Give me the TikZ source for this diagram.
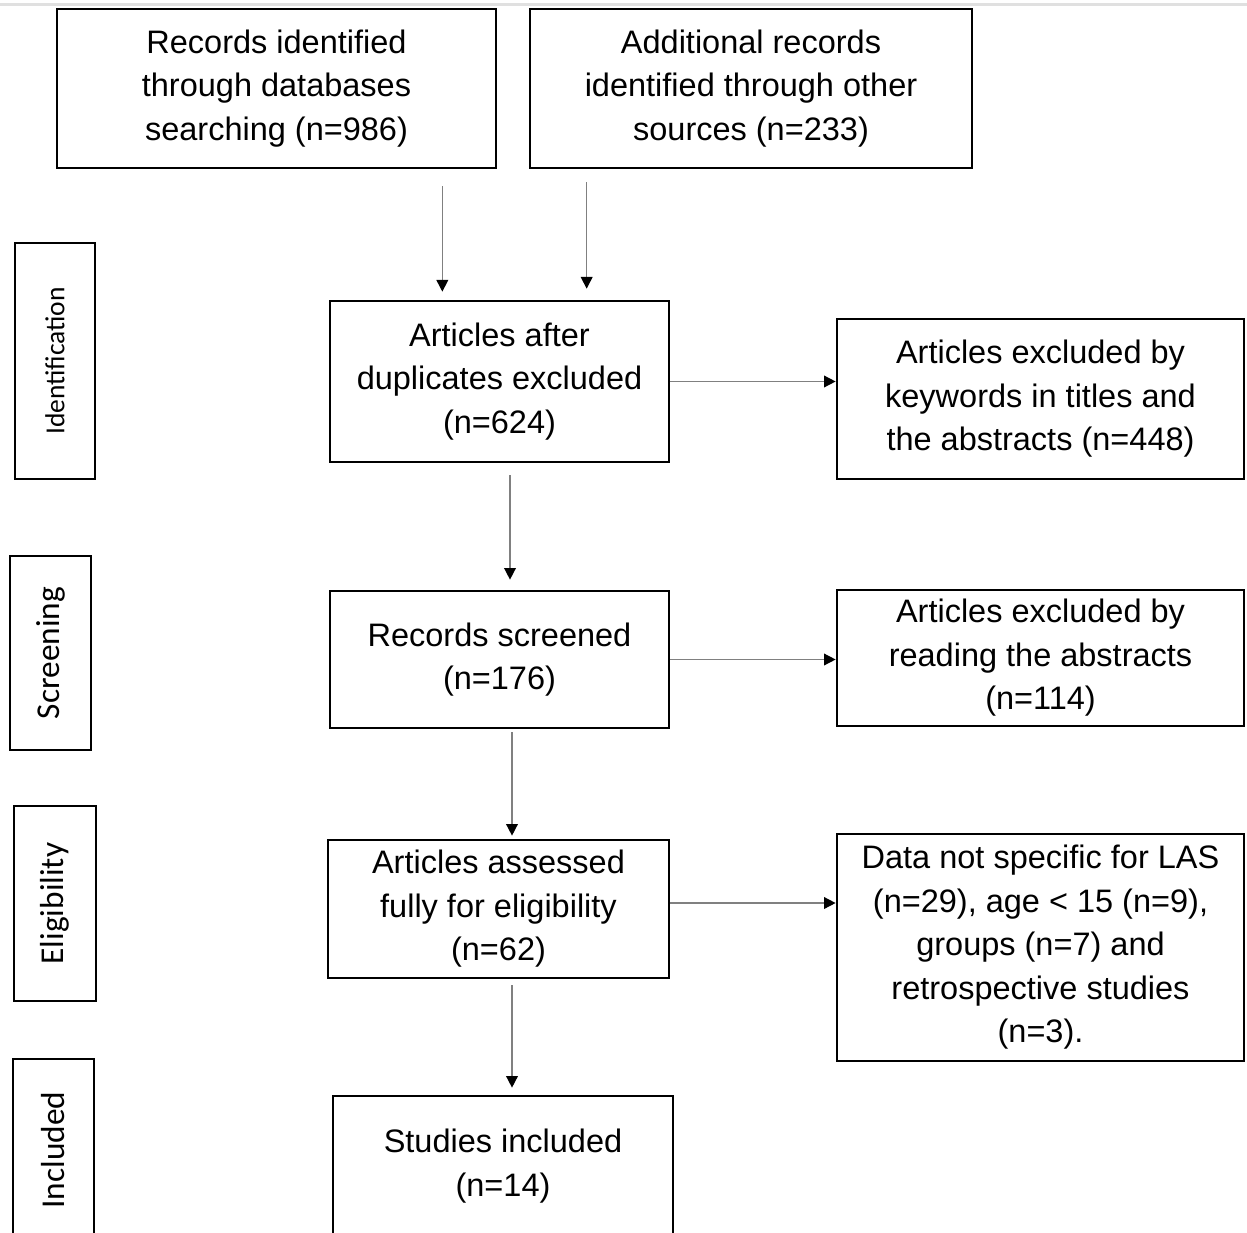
\documentclass[tikz,border=0pt]{standalone}
\usepackage{fontspec}
\setmainfont{Liberation Sans}
\newfontfamily\calib{Carlito}
\usetikzlibrary{arrows.meta}
\begin{document}
\begin{tikzpicture}[x=0.6pt,y=-0.6pt,
  bx/.style 2 args={draw, line width=1.6pt, minimum width=#1*0.6pt, minimum height=#2*0.6pt,
    inner sep=0pt, align=center, font=\fontsize{19.5pt}{26.1pt}\selectfont},
  side/.style 2 args={draw, line width=1.6pt, rotate=90, minimum width=#1*0.6pt, minimum height=#2*0.6pt,
    inner sep=0pt, font=\calib\fontsize{20pt}{24pt}\selectfont},
  arr/.style={draw=gray, line width=0.9pt, -{Triangle[length=7pt,width=7pt,color=black]}}]
\useasboundingbox (0,0) rectangle (1247,1233);
\clip (0,0) rectangle (1247,1233);
\draw[line width=1.8pt, black!12] (0,5) -- (1247,5);

\node[bx={439}{159}] (A) at (276.5,88.5) {Records identified\\through databases\\searching (n=986)};
\node[bx={442}{159}] (B) at (751,88.5) {Additional records\\identified through other\\sources (n=233)};
\node[bx={339}{161}] (C) at (499.5,381.5) {Articles after\\duplicates excluded\\(n=624)};
\node[bx={407}{160}] (D) at (1040.5,399) {Articles excluded by\\keywords in titles and\\the abstracts (n=448)};
\node[bx={339}{137}] (E) at (499.5,659.5) {Records screened\\(n=176)};
\node[bx={407}{136}] (F) at (1040.5,658) {Articles excluded by\\reading the abstracts\\(n=114)};
\node[bx={341}{138}] (G) at (498.5,909) {Articles assessed\\fully for eligibility\\(n=62)};
\node[bx={407}{227}] (H) at (1040.5,947.5) {Data not specific for LAS\\(n=29), age < 15 (n=9),\\groups (n=7) and\\retrospective studies\\(n=3).};
\node[bx={340}{140}] (I) at (503,1166) {Studies included\\(n=14)};

\node[side={236}{80}, font=\calib\fontsize{16.5pt}{20pt}\selectfont] (S1) at (55,361) {Identification};
\node[side={194}{81}] (S2) at (50.5,653) {Screening};
\node[side={195}{82}] (S3) at (55,903.5) {Eligibility};
\node[side={182}{81}] (S4) at (53.5,1150) {Included};

\draw[arr, shorten <=10.2pt, shorten >=4.8pt] ([xshift=-33pt]A.south east) -- ([xshift=-33pt]A.south east |- C.north);
\draw[arr, shorten <=7.8pt, shorten >=6.6pt] ([xshift=34.8pt]B.south west) -- ([xshift=34.8pt]B.south west |- C.north);
\draw[arr] (C.east) -- (C.east -| D.west);
\draw[arr, shorten <=7.2pt, shorten >=6pt] ([xshift=6.3pt]C.south) -- ([xshift=6.3pt]C.south |- E.north);
\draw[arr] (E.east) -- (E.east -| F.west);
\draw[arr, shorten <=1.8pt, shorten >=1.8pt] ([xshift=7.5pt]E.south) -- ([xshift=7.5pt]E.south |- G.north);
\draw[arr] ([yshift=3.6pt]G.east) -- ([yshift=3.6pt]G.east -| H.west);
\draw[arr, shorten <=3.6pt, shorten >=4.2pt] ([xshift=8.1pt]G.south) -- ([xshift=8.1pt]G.south |- I.north);
\end{tikzpicture}
\end{document}
